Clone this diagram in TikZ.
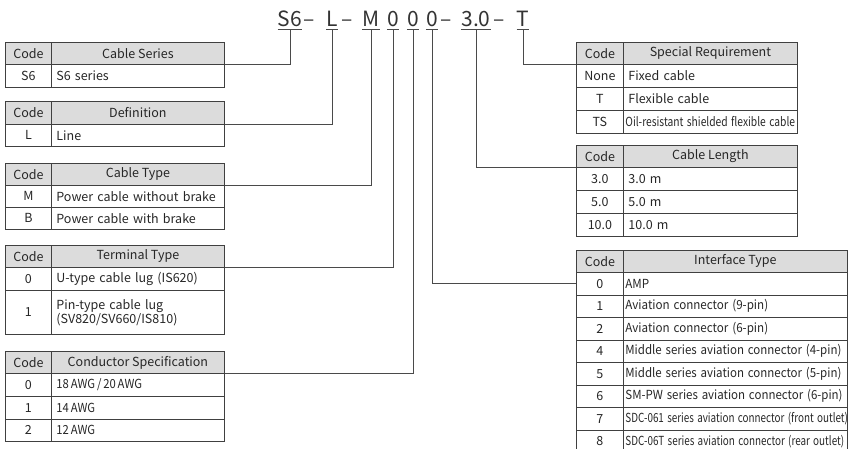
\documentclass[tikz,border=0pt]{standalone}
\usepackage{fontspec}
\setmainfont{Noto Sans CJK SC}
\usepackage{graphicx}
\definecolor{bd}{HTML}{404040}
\definecolor{hd}{HTML}{DCDCDC}
\definecolor{ln}{HTML}{4A4A4A}
\definecolor{tx}{HTML}{262626}
\tikzset{
  cell/.style={draw=bd, line width=0.8pt, anchor=north west, inner sep=0pt,
    font=\fontsize{12.5}{14}\selectfont, text=tx},
  hcell/.style={cell, fill=hd},
  lbl/.style={inner xsep=0pt, inner ysep=2.5pt, anchor=base, text depth=0pt,
    font=\fontsize{21}{24}\selectfont, text=black!80},
  dsh/.style={inner sep=0pt, anchor=base, font=\fontsize{21}{24}\selectfont, text=black!80},
  uline/.style={draw=ln, line width=0.8pt},
  conn/.style={draw=ln, line width=0.9pt},
}
% centered cell: style, name, x0, y0, x1, y1, text
\newcommand\ccell[7]{%
  \pgfmathsetlengthmacro\cw{(#5-#3)*1pt}%
  \pgfmathsetlengthmacro\ch{(#6-#4)*1pt}%
  \node[#1, minimum width=\cw, minimum height=\ch, align=center] (#2) at (#3,#4) {#7};}
% left aligned cell
\newcommand\lcell[6]{%
  \pgfmathsetlengthmacro\cw{(#4-#2-10)*1pt}%
  \pgfmathsetlengthmacro\ch{(#5-#3)*1pt}%
  \node[cell, text width=\cw, inner xsep=5pt, minimum height=\ch, align=left] (#1) at (#2,#3) {#6};}
% left aligned cell, tight padding
\newcommand\icell[6]{%
  \pgfmathsetlengthmacro\cw{(#4-#2-4)*1pt}%
  \pgfmathsetlengthmacro\ch{(#5-#3)*1pt}%
  \node[cell, text width=\cw, inner xsep=2pt, minimum height=\ch, align=left] (#1) at (#2,#3) {#6};}
\newcommand\cnd[2]{\scalebox{#1}[1]{#2}}
\begin{document}
\begin{tikzpicture}[x=1pt,y=-1pt]
\useasboundingbox (0,0) rectangle (849,449);
\clip (0,0) rectangle (849,449);
% ---------- top code ----------
\node[lbl] (cS) at (290,27) {S6};
\node[dsh] (d1) at (309,27) {–};
\node[lbl] (cL) at (332,27) {L};
\node[dsh] (d2) at (347,27) {–};
\node[lbl] (cM) at (371,27) {M};
\node[lbl] (cA) at (393,27) {0};
\node[lbl] (cB) at (413,27) {0};
\node[lbl] (cC) at (432,27) {0};
\node[dsh] (d3) at (446,27) {–};
\node[lbl] (cD) at (476,27) {3.0};
\node[dsh] (d4) at (499,27) {–};
\node[lbl] (cT) at (523,27) {T};
\foreach \n in {cS,cL,cM,cA,cB,cC,cD,cT}{\draw[uline] (\n.south west) -- (\n.south east);}
% ---------- left tables ----------
% T1
\ccell{hcell}{t1c}{5}{42}{51}{64}{Code}
\ccell{hcell}{t1h}{51}{42}{224}{64}{Cable Series}
\ccell{cell}{t1a}{5}{64}{51}{87}{S6}
\lcell{t1b}{51}{64}{224}{87}{S6 series}
% T2
\ccell{hcell}{t2c}{5}{101}{51}{124}{Code}
\ccell{hcell}{t2h}{51}{101}{224}{124}{Definition}
\ccell{cell}{t2a}{5}{124}{51}{146}{L}
\lcell{t2b}{51}{124}{224}{146}{Line}
% T3
\ccell{hcell}{t3c}{5}{163}{51}{185}{Code}
\ccell{hcell}{t3h}{51}{163}{224}{185}{Cable Type}
\ccell{cell}{t3a}{5}{185}{51}{207}{M}
\lcell{t3b}{51}{185}{224}{207}{Power cable without brake}
\ccell{cell}{t3d}{5}{207}{51}{229}{B}
\lcell{t3e}{51}{207}{224}{229}{Power cable with brake}
% T4
\ccell{hcell}{t4c}{5}{245}{51}{267}{Code}
\ccell{hcell}{t4h}{51}{245}{224}{267}{Terminal Type}
\ccell{cell}{t4a}{5}{267}{51}{290}{0}
\lcell{t4b}{51}{267}{224}{290}{U-type cable lug (IS620)}
\ccell{cell}{t4d}{5}{290}{51}{334}{1}
\lcell{t4e}{51}{290}{224}{334}{Pin-type cable lug\\(SV820/SV660/IS810)}
% T5
\ccell{hcell}{t5c}{5}{351}{51}{373}{Code}
\ccell{hcell}{t5h}{51}{351}{224}{373}{Conductor Specification}
\ccell{cell}{t5a}{5}{373}{51}{396}{0}
\lcell{t5b}{51}{373}{224}{396}{\cnd{0.9}{18\,AWG\,/\,20\,AWG}}
\ccell{cell}{t5d}{5}{396}{51}{419}{1}
\lcell{t5e}{51}{396}{224}{419}{\cnd{0.9}{14\,AWG}}
\ccell{cell}{t5f}{5}{419}{51}{441}{2}
\lcell{t5g}{51}{419}{224}{441}{\cnd{0.9}{12\,AWG}}
% ---------- right tables ----------
% T6
\ccell{hcell}{t6c}{576}{42}{623}{64}{Code}
\ccell{hcell}{t6h}{623}{42}{797}{64}{Special Requirement}
\ccell{cell}{t6a}{576}{64}{623}{87}{None}
\lcell{t6b}{623}{64}{797}{87}{Fixed cable}
\ccell{cell}{t6d}{576}{87}{623}{110}{T}
\lcell{t6e}{623}{87}{797}{110}{Flexible cable}
\ccell{cell}{t6f}{576}{110}{623}{133}{TS}
\icell{t6g}{623}{110}{797}{133}{\cnd{0.82}{Oil-resistant shielded flexible cable}}
% T7
\ccell{hcell}{t7c}{576}{145}{623}{167}{Code}
\ccell{hcell}{t7h}{623}{145}{797}{167}{Cable Length}
\ccell{cell}{t7a}{576}{167}{623}{190}{3.0}
\lcell{t7b}{623}{167}{797}{190}{3.0 m}
\ccell{cell}{t7d}{576}{190}{623}{213}{5.0}
\lcell{t7e}{623}{190}{797}{213}{5.0 m}
\ccell{cell}{t7f}{576}{213}{623}{236}{10.0}
\lcell{t7g}{623}{213}{797}{236}{10.0 m}
% T8
\ccell{hcell}{t8c}{576}{250}{623}{272}{Code}
\ccell{hcell}{t8h}{623}{250}{847}{272}{Interface Type}
\ccell{cell}{t8a0}{576}{272}{623}{294.5}{0}
\icell{t8b0}{623}{272}{847}{294.5}{\cnd{0.93}{AMP}}
\ccell{cell}{t8a1}{576}{294.5}{623}{317}{1}
\icell{t8b1}{623}{294.5}{847}{317}{\cnd{0.93}{Aviation connector (9-pin)}}
\ccell{cell}{t8a2}{576}{317}{623}{339.5}{2}
\icell{t8b2}{623}{317}{847}{339.5}{\cnd{0.93}{Aviation connector (6-pin)}}
\ccell{cell}{t8a4}{576}{339.5}{623}{362}{4}
\icell{t8b4}{623}{339.5}{847}{362}{\cnd{0.92}{Middle series aviation connector (4-pin)}}
\ccell{cell}{t8a5}{576}{362}{623}{384.5}{5}
\icell{t8b5}{623}{362}{847}{384.5}{\cnd{0.92}{Middle series aviation connector (5-pin)}}
\ccell{cell}{t8a6}{576}{384.5}{623}{407}{6}
\icell{t8b6}{623}{384.5}{847}{407}{\cnd{0.92}{SM-PW series aviation connector (6-pin)}}
\ccell{cell}{t8a7}{576}{407}{623}{429.5}{7}
\icell{t8b7}{623}{407}{847}{429.5}{\cnd{0.79}{SDC-061 series aviation connector (front outlet)}}
\ccell{cell}{t8a8}{576}{429.5}{623}{452}{8}
\icell{t8b8}{623}{429.5}{847}{452}{\cnd{0.79}{SDC-06T series aviation connector (rear outlet)}}
% ---------- connectors ----------
\draw[conn] (cS.south) |- (t1h.south east);
\draw[conn] (cL.south) |- (t2h.south east);
\draw[conn] (cM.south) |- (t3h.south east);
\draw[conn] (cA.south) |- (t4h.south east);
\draw[conn] (cB.south) |- (t5h.south east);
\draw[conn] (cC.south) |- (t8a0.west);
\draw[conn] (cD.south) |- (t7c.south west);
\draw[conn] (cT.south) |- (t6c.south west);
\end{tikzpicture}
\end{document}
